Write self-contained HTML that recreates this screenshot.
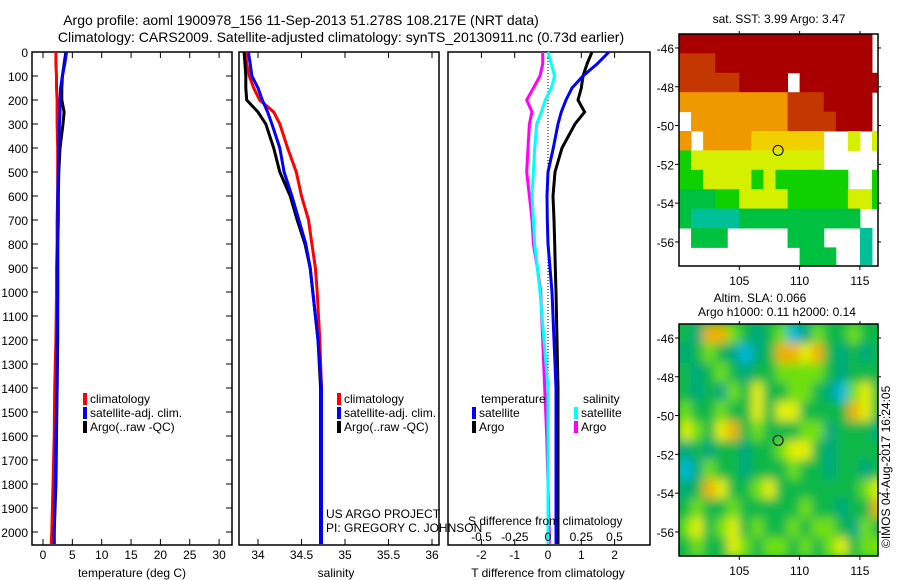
<!DOCTYPE html>
<html><head><meta charset="utf-8">
<style>
html,body{margin:0;padding:0;background:#fff;}
svg{display:block;font-family:"Liberation Sans",sans-serif;}
text{font-size:13px;fill:#000;}
</style></head>
<body>
<svg id="fig" width="900" height="580" viewBox="0 0 900 580" xmlns="http://www.w3.org/2000/svg">
<text x="301" y="25" text-anchor="middle" style="font-size:14px">Argo profile: aoml 1900978_156 11-Sep-2013 51.278S 108.217E (NRT data)</text>
<text x="341" y="42" text-anchor="middle" style="font-size:14px">Climatology: CARS2009. Satellite-adjusted climatology: synTS_20130911.nc (0.73d earlier)</text>
<text x="779" y="23" text-anchor="middle" style="font-size:12px">sat. SST: 3.99 Argo: 3.47</text>
<text x="760" y="302" text-anchor="middle" style="font-size:12px">Altim. SLA: 0.066</text>
<text x="777" y="316" text-anchor="middle" style="font-size:12px">Argo h1000: 0.11 h2000: 0.14</text>
<text transform="translate(890,548) rotate(-90)" style="font-size:12px">©IMOS 04-Aug-2017 16:24:05</text>
<g id="plots"></g>
</svg>
<script>
// ---------- data ----------
const depths = [0,50,100,150,200,250,300,400,500,600,700,800,900,1000,1200,1400,1600,1800,2000,2050];
const tempClim = [2.2,2.2,2.3,2.3,2.4,2.4,2.4,2.5,2.5,2.5,2.4,2.4,2.3,2.3,2.2,2.0,1.9,1.7,1.5,1.4];
const tempSat  = [4.0,3.7,3.3,3.0,2.9,2.9,2.8,2.7,2.6,2.5,2.5,2.5,2.5,2.5,2.4,2.4,2.2,2.1,1.9,1.9];
const tempArgo = [3.9,3.6,3.3,3.2,3.2,3.6,3.4,2.9,2.7,2.6,2.6,2.5,2.5,2.5,2.5,2.4,2.3,2.2,1.9,1.9];
const salClim = [33.86,33.87,33.9,33.95,34.02,34.18,34.25,34.34,34.44,34.5,34.58,34.62,34.66,34.68,34.71,34.73,34.73,34.73,34.73,34.73];
const salSat  = [33.89,33.91,33.93,34.0,34.05,34.11,34.16,34.25,34.3,34.39,34.47,34.55,34.6,34.63,34.69,34.73,34.73,34.73,34.73,34.73];
const salArgo = [33.84,33.85,33.86,33.86,33.87,34.0,34.09,34.18,34.25,34.37,34.45,34.54,34.6,34.63,34.69,34.72,34.72,34.72,34.72,34.72];
const dTsat  = [1.83,1.47,1.05,0.72,0.54,0.4,0.3,0.16,0.0,-0.03,-0.02,0.0,0.06,0.12,0.18,0.24,0.24,0.24,0.24,0.24];
const dTargo = [1.32,1.17,1.05,1.0,0.9,1.1,0.81,0.42,0.21,0.15,0.18,0.2,0.22,0.24,0.27,0.3,0.3,0.3,0.3,0.3];
const dSsat  = [0.0,0.025,0.05,0.025,-0.02,-0.05,-0.085,-0.1,-0.11,-0.12,-0.11,-0.1,-0.08,-0.06,-0.03,0.0,0.0,0.0,0.0,0.0];
const dSargo = [-0.04,-0.04,-0.06,-0.11,-0.16,-0.12,-0.14,-0.15,-0.16,-0.14,-0.12,-0.11,-0.08,-0.055,-0.04,-0.025,-0.01,0.0,0.01,0.01];
const depthTicks = [0,100,200,300,400,500,600,700,800,900,1000,1100,1200,1300,1400,1500,1600,1700,1800,1900,2000];
const tempTicks = [0,5,10,15,20,25,30];
const salTicks = [34,34.5,35,35.5,36];
const dTTicks = [-2,-1,0,1,2];
const dSTicks = [-0.5,-0.25,0,0.25,0.5];
const dSTickLabels = ['-0.5','-0.25','0','0.25','0.5'];
const latTicks = [-46,-48,-50,-52,-54,-56];
const lonTicks = [105,110,115];
const argoLon = 108.217, argoLat = -51.278;
const sstRows = [
"RRRRRRRRRRRRRRRR.",
"OOORRRRRRRRRRRRR.",
"OOOOORRRR.RRRRRRR",
"oooooooooOOORRRR.",
".ooooooooOOOORRR.",
"o.ooooyyyyyy..Y.Y",
"GYYYYYYYYYYY.....",
"GGYYYYGYGGGGGG..G",
"gggGGYYYYGGGGGYYG",
"gttttgggggggggg..",
".ggg.....ggg...t.",
"..........ggg..t."];
const slaRows = [
"gtoolgtglctlgglgg",
"tglgtctgooyogtgtg",
"gtglgtggllllgtggg",
"gtgtlgyggllgtclyg",
"lgglggygyyggggoyg",
"ylgyoglggglltgggtg",
"tgtggtgglyygtgggg",
"ctlggtggglggtggtg",
"tgoygglyggggggglyg",
"glggldgggglggtggoy",
"lyglyglgglgllgtlg",
"glggylgllglglyglly"];
// ---------- helpers ----------
const NS="http://www.w3.org/2000/svg";
const root=document.getElementById('plots');
function mk(tag,attrs,parent){const e=document.createElementNS(NS,tag);for(const k in attrs)e.setAttribute(k,attrs[k]);(parent||root).appendChild(e);return e;}
const yTop=52, yScale=0.24;
const yD=d=>yTop+d*yScale;
const bottom=545;
function stepPath(xs,xf){let p='';for(let i=0;i<depths.length;i++){const x=xf(xs[i]).toFixed(1),y=yD(depths[i]).toFixed(1);p+=(i?'L':'M')+x+','+y;}return p;}
function line(name,xs,xf,color){const e=mk('path',{d:stepPath(xs,xf),fill:'none',stroke:color,'stroke-width':3});}
function txt(name,x,y,s,anchor,size){const e=mk('text',{x:x,y:y,'text-anchor':anchor||'start'});if(size)e.style.fontSize=size+'px';e.textContent=s;return e;}
function frame(name,x0,x1,y0,y1){const e=mk('rect',{x:x0,y:y0,width:x1-x0,height:y1-y0,fill:'none',stroke:'#000','stroke-width':1.5});}
function tk(x1,y1,x2,y2){const e=mk('line',{x1:x1,y1:y1,x2:x2,y2:y2,stroke:'#000','stroke-width':1});}
function legend(name,x,y,color,label){const r=mk('rect',{x:x,y:y-10,width:4,height:12,fill:color});txt(name,x+7,y,label,'start',12);}
// ---------- panel 1 temperature ----------
const P1={x0:32,x1:232};const xT=v=>43+v*5.87;
frame('temperature-panel',P1.x0,P1.x1,yTop,bottom);
depthTicks.forEach(d=>{tk(P1.x0,yD(d),P1.x0+6,yD(d));tk(P1.x1,yD(d),P1.x1-6,yD(d));txt('depth-tick-label',28,yD(d)+5,String(d),'end',12);});
tempTicks.forEach(v=>{tk(xT(v),yTop,xT(v),yTop+6);tk(xT(v),bottom,xT(v),bottom-6);txt('temperature-tick-label',xT(v),559,String(v),'middle',12);});
txt('temperature-axis-title',132,577,'temperature (deg C)','middle',12);
line('temperature-climatology',tempClim,xT,'#f00');
line('temperature-argo',tempArgo,xT,'#000');
line('temperature-satellite',tempSat,xT,'#00f');
legend('legend-climatology',83,403,'#f00','climatology');
legend('legend-satellite-adj',83,417,'#00f','satellite-adj. clim.');
legend('legend-argo',83,431,'#000','Argo(..raw -QC)');
// ---------- panel 2 salinity ----------
const P2={x0:239,x1:439};const xS=v=>258+(v-34)*87;
frame('salinity-panel',P2.x0,P2.x1,yTop,bottom);
salTicks.forEach(v=>{tk(xS(v),yTop,xS(v),yTop+6);tk(xS(v),bottom,xS(v),bottom-6);txt('salinity-tick-label',xS(v),559,String(v),'middle',12);});
txt('salinity-axis-title',336,577,'salinity','middle',12);
line('salinity-climatology',salClim,xS,'#f00');
line('salinity-argo',salArgo,xS,'#000');
line('salinity-satellite',salSat,xS,'#00f');
legend('legend-climatology-2',337,403,'#f00','climatology');
legend('legend-satellite-adj-2',337,417,'#00f','satellite-adj. clim.');
legend('legend-argo-2',337,431,'#000','Argo(..raw -QC)');
txt('project-label',326,518,'US ARGO PROJECT','start',12);
txt('pi-label',326,532,'PI: GREGORY C. JOHNSON','start',12);
// ---------- panel 3 differences ----------
const P3={x0:448,x1:650};const xDT=v=>548+v*33.3;const xDS=v=>548+v*133;
frame('difference-panel',P3.x0,P3.x1,yTop,bottom);
const z=mk('line',{x1:548,y1:yTop,x2:548,y2:bottom,stroke:'#000','stroke-width':1,'stroke-dasharray':'1,2'});
dTTicks.forEach(v=>{tk(xDT(v),yTop,xDT(v),yTop+6);tk(xDT(v),bottom,xDT(v),bottom-6);txt('t-diff-tick-label',xDT(v),559,String(v),'middle',12);});
txt('t-diff-axis-title',548,577,'T difference from climatology','middle',12);
line('salinity-diff-argo',dSargo,xDS,'#f0f');
line('salinity-diff-satellite',dSsat,xDS,'#0ff');
line('temperature-diff-argo',dTargo,xDT,'#000');
line('temperature-diff-satellite',dTsat,xDT,'#00f');
dSTicks.forEach((v,i)=>txt('s-diff-tick-label',xDS(v),541,dSTickLabels[i],'middle',12));
txt('s-diff-axis-title',468,525,'S difference from climatology','start',12);
txt('legend-temperature-heading',481,403,'temperature','start',12);
legend('legend-t-satellite',472,417,'#00f','satellite');
legend('legend-t-argo',472,431,'#000','Argo');
txt('legend-salinity-heading',583,403,'salinity','start',12);
legend('legend-s-satellite',574,417,'#0ff','satellite');
legend('legend-s-argo',574,431,'#f0f','Argo');
// ---------- maps ----------
const MX0=679,MX1=878,lon0=100,lon1=116.5,lat0=-45.28,lat1=-57.24;
const mx=l=>MX0+(l-lon0)*(MX1-MX0)/(lon1-lon0);
const sstCol={R:'#a80000',O:'#c43800',o:'#f09800',y:'#f0d000',Y:'#d4f000',G:'#10d000',g:'#00c040',t:'#00c098'};
const slaCol={g:'#08b848',l:'#70e010',y:'#e4f000',o:'#f0b000',t:'#00a880',c:'#00b8e0',d:'#08b848'};
function map(name,y0,y1,rows,cols,blur){
 const my=l=>y0+(lat0-l)*(y1-y0)/(lat0-lat1);
 const g=mk('g',{});
 const cid=name+'-clip';const cp=mk('clipPath',{id:cid},g);mk('rect',{x:MX0,y:y0,width:MX1-MX0,height:y1-y0},cp);
 const inner=mk('g',{'clip-path':'url(#'+cid+')'},g);
 let tgt=inner;
 if(blur){const f=mk('filter',{id:name+'-blur',x:'-5%',y:'-5%',width:'110%',height:'110%'},g);mk('feGaussianBlur',{stdDeviation:5},f);
  mk('rect',{x:MX0,y:y0,width:MX1-MX0,height:y1-y0,fill:'#08b848'},inner);tgt=mk('g',{filter:'url(#'+name+'-blur)'},inner);}
 rows.forEach((r,i)=>{for(let j=0;j<r.length;j++){const c=cols[r[j]];if(!c)continue;const la=lat0-i,lo=lon0+j;
  const cell=mk('rect',{x:mx(lo),y:my(la),width:mx(lo+1)-mx(lo)+0.5,height:my(la-1)-my(la)+0.5,fill:c},tgt);
  }});
 frame(name+'-frame',MX0,MX1,y0,y1);
 latTicks.forEach(l=>{tk(MX0-4,my(l),MX0,my(l));tk(MX1,my(l),MX1+3,my(l));txt('lat-tick-label',674,my(l)+5,String(l),'end',12);});
 lonTicks.forEach(l=>{tk(mx(l),y1,mx(l),y1+4);tk(mx(l),y0,mx(l),y0-3);txt('lon-tick-label',mx(l),y1+19,String(l),'middle',12);});
 const c=mk('circle',{cx:mx(argoLon),cy:my(argoLat),r:5,fill:'none',stroke:'#000','stroke-width':1});
}
map('sst-map',34,266,sstRows,sstCol,false);
map('sla-map',324,556,slaRows,slaCol,true);
</script>
</body></html>
